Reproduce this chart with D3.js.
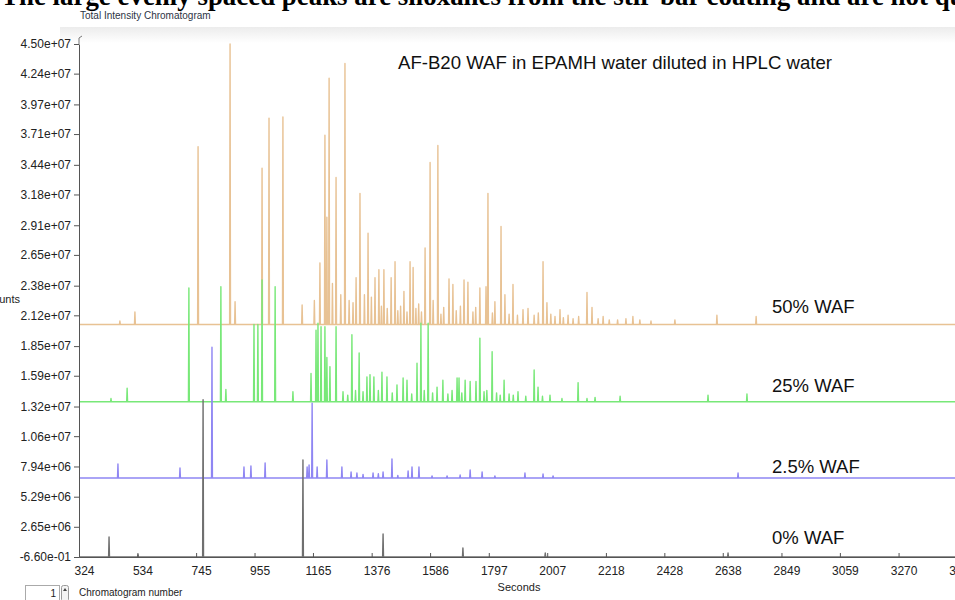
<!DOCTYPE html>
<html>
<head>
<meta charset="utf-8">
<script src="https://cdn.jsdelivr.net/npm/d3@7"></script>
<style>
  html, body { margin: 0; padding: 0; background: #fff; overflow: hidden; }
  svg { display: block; }
</style>
</head>
<body>
<svg id="chart" width="955" height="600"></svg>
<script>
// ---------------- DATA ----------------
// retention time (seconds), intensity (millions of counts)
const seriesNames = ["50% WAF", "25% WAF", "2.5% WAF", "0% WAF"];
const baselines = [20.4, 13.62, 6.93, 0.0];

const peaks50 = [
  [471, 20.7], [525, 21.5], [752, 36.0], [867, 45.0], [885, 22.4], [982, 34.1],
  [1007, 38.5], [1057, 38.6], [1126, 22.1], [1170, 22.5], [1190, 25.8], [1208, 37.0],
  [1215, 29.8], [1223, 42.0], [1235, 24.0], [1248, 33.3], [1265, 23.0], [1280, 43.3],
  [1295, 22.5], [1309, 22.3], [1320, 24.5], [1334, 31.9], [1350, 23.0], [1363, 28.4],
  [1375, 22.8], [1388, 24.5], [1402, 25.2], [1411, 22.0], [1420, 25.2], [1432, 21.8],
  [1446, 24.5], [1460, 25.9], [1470, 21.6], [1480, 22.0], [1492, 23.3], [1503, 21.5],
  [1514, 25.9], [1525, 25.4], [1535, 21.8], [1545, 22.2], [1555, 21.5], [1568, 27.1],
  [1586, 34.6], [1597, 22.5], [1614, 36.1], [1625, 21.3], [1635, 21.9], [1654, 24.4],
  [1668, 23.9], [1680, 21.6], [1695, 22.0], [1708, 24.3], [1722, 24.1], [1740, 21.5],
  [1750, 21.9], [1765, 23.6], [1787, 23.7], [1794, 31.9], [1810, 21.4], [1819, 22.4],
  [1841, 29.0], [1855, 23.0], [1870, 21.3], [1884, 23.9], [1900, 21.2], [1920, 21.7],
  [1938, 21.8], [1960, 21.2], [1975, 21.4], [1992, 25.9], [2006, 22.3], [2020, 21.3],
  [2035, 21.1], [2053, 21.7], [2065, 21.0], [2082, 21.2], [2100, 20.9], [2120, 21.1],
  [2150, 23.2], [2168, 21.9], [2190, 20.9], [2208, 21.1], [2230, 20.8], [2260, 20.8],
  [2290, 20.9], [2315, 21.1], [2340, 20.8], [2380, 20.7], [2466, 20.8], [2617, 21.2],
  [2758, 21.1]
];

const peaks25 = [
  [439, 13.9], [497, 14.8], [719, 23.6], [834, 23.7], [852, 14.7], [953, 20.4],
  [967, 20.4], [982, 24.3], [1029, 23.7], [1093, 14.5], [1158, 16.1], [1176, 19.9],
  [1183, 20.5], [1194, 20.2], [1208, 20.2], [1215, 17.5], [1226, 16.7], [1248, 20.2],
  [1273, 14.5], [1290, 14.2], [1305, 19.5], [1318, 14.6], [1331, 17.9], [1345, 14.5],
  [1359, 15.8], [1370, 16.0], [1384, 15.8], [1400, 14.6], [1413, 16.2], [1431, 15.8],
  [1450, 14.4], [1467, 15.1], [1489, 15.7], [1503, 15.5], [1520, 14.3], [1539, 17.0],
  [1553, 20.5], [1565, 14.6], [1579, 20.5], [1595, 14.4], [1611, 14.9], [1632, 15.5],
  [1650, 14.3], [1665, 14.6], [1683, 15.7], [1690, 15.7], [1700, 14.4], [1712, 15.5],
  [1730, 15.4], [1751, 15.4], [1765, 19.2], [1780, 14.5], [1790, 14.6], [1809, 18.0],
  [1825, 14.4], [1838, 14.2], [1852, 15.5], [1870, 14.3], [1885, 14.2], [1902, 14.5],
  [1930, 14.1], [1960, 16.4], [1974, 14.9], [1990, 14.1], [2017, 14.2], [2060, 13.9],
  [2118, 15.3], [2150, 13.9], [2179, 14.0], [2269, 14.1], [2585, 14.2], [2725, 14.3]
];

const peaks2_5 = [
  [464, 8.16], [687, 7.81], [802, 18.4], [917, 7.89], [942, 7.98], [993, 8.25],
  [1144, 7.89], [1151, 8.07], [1162, 13.5], [1180, 7.89], [1215, 8.51], [1269, 7.89],
  [1302, 7.46], [1323, 7.37], [1345, 7.25], [1381, 7.37], [1400, 7.3], [1417, 7.46],
  [1449, 8.6], [1470, 7.15], [1507, 7.54], [1521, 7.89], [1546, 7.89], [1593, 7.11],
  [1647, 7.11], [1694, 7.19], [1730, 7.63], [1773, 7.46], [1819, 7.11], [1927, 7.37],
  [1992, 7.28], [2028, 7.11], [2693, 7.37]
];

const peaks0 = [
  [432, 1.75], [536, 0.2], [770, 13.8], [1129, 8.51], [1417, 2.02], [1704, 0.79],
  [2000, 0.35], [2657, 0.35]
];

const allPeaks = [peaks50, peaks25, peaks2_5, peaks0];
const seriesColors = ["#e8c294", "#78e878", "#8f86f3", "#6f6f6f"];

const xTickLabels = ["324", "534", "745", "955", "1165", "1376", "1586", "1797",
                     "2007", "2218", "2428", "2638", "2849", "3059", "3270", "3480"];
const yTickLabels = ["-6.60e-01", "2.65e+06", "5.29e+06", "7.94e+06", "1.06e+07",
                     "1.32e+07", "1.59e+07", "1.85e+07", "2.12e+07", "2.38e+07",
                     "2.65e+07", "2.91e+07", "3.18e+07", "3.44e+07", "3.71e+07",
                     "3.97e+07", "4.24e+07", "4.50e+07"];

// ---------------- CHART ----------------
const svg = d3.select("#chart");
const font = "'Liberation Sans', Arial, Helvetica, sans-serif";

const x = d3.scaleLinear().domain([324, 3480]).range([79, 957]);
const y = d3.scaleLinear().domain([-6.6e-7, 45.0]).range([557, 44]);

// top title (cut off at top edge, as in the original screenshot)
svg.append("text")
  .attr("x", 1).attr("y", 5)
  .attr("font-family", "'Liberation Serif', 'Times New Roman', serif")
  .attr("font-weight", "bold").attr("font-size", 26.9)
  .attr("fill", "#000")
  .text("The large evenly spaced peaks are siloxanes from the stir-bar coating and are not quantified");

// faint header band of the plot panel
const grad = svg.append("defs").append("linearGradient")
  .attr("id", "band").attr("x1", 0).attr("y1", 0).attr("x2", 0).attr("y2", 1);
grad.append("stop").attr("offset", "0%").attr("stop-color", "#ececec");
grad.append("stop").attr("offset", "100%").attr("stop-color", "#ffffff");
svg.append("rect").attr("x", 60).attr("y", 27).attr("width", 895).attr("height", 16)
  .attr("fill", "url(#band)");

svg.append("text")
  .attr("x", 80).attr("y", 19)
  .attr("font-family", font).attr("font-size", 10)
  .attr("fill", "#2c3445")
  .text("Total Intensity Chromatogram");

// chromatogram lines
allPeaks.forEach((pk, i) => {
  const base = baselines[i];
  const pts = [[324, base]];
  pk.forEach(([t, v]) => {
    pts.push([t - 1.6, base], [t, v], [t + 1.6, base]);
  });
  pts.push([3480, base]);
  const line = d3.line().x(d => x(d[0])).y(d => y(d[1]));
  svg.append("path")
    .attr("d", line(pts))
    .attr("fill", "none")
    .attr("stroke", seriesColors[i])
    .attr("stroke-width", 1.4)
    .attr("stroke-linejoin", "round");
});

// axes
const yTickVals = yTickLabels.map(s => parseFloat(s) / 1e6);
const yAxis = d3.axisLeft(y)
  .tickValues(yTickVals)
  .tickFormat((d, i) => yTickLabels[i])
  .tickSizeInner(5).tickSizeOuter(0).tickPadding(3);
const gy = svg.append("g").attr("transform", "translate(79,0)").call(yAxis);
gy.select(".domain").attr("stroke", "#555");
gy.selectAll(".tick line").attr("stroke", "#555");
gy.selectAll("text").attr("font-family", font).attr("font-size", 12).attr("fill", "#222");

const xTickVals = xTickLabels.map(Number);
const xAxis = d3.axisBottom(x)
  .tickValues(xTickVals)
  .tickFormat((d, i) => xTickLabels[i])
  .tickSizeInner(-4).tickSizeOuter(0).tickPadding(9);
const gx = svg.append("g").attr("transform", "translate(0,557)").call(xAxis);
gx.select(".domain").attr("stroke", "#555");
gx.selectAll(".tick line").attr("stroke", "#555");
gx.selectAll("text").attr("font-family", font).attr("font-size", 12)
  .attr("fill", "#222").attr("dx", 5);

// small notch at the top of the y axis
svg.append("path").attr("d", "M79,44 L79,38 L82,36").attr("fill", "none").attr("stroke", "#777");

// axis titles
svg.append("text").attr("x", 519).attr("y", 591).attr("text-anchor", "middle")
  .attr("font-family", font).attr("font-size", 11).attr("fill", "#222").text("Seconds");
svg.append("text").attr("x", 20).attr("y", 303).attr("text-anchor", "end")
  .attr("font-family", font).attr("font-size", 11).attr("fill", "#222").text("Counts");

// annotation + series labels
svg.append("text").attr("x", 398).attr("y", 69)
  .attr("font-family", font).attr("font-size", 18.6).attr("fill", "#111")
  .text("AF-B20 WAF in EPAMH water diluted in HPLC water");

const labelY = [313, 392, 473, 544];
seriesNames.forEach((n, i) => {
  svg.append("text").attr("x", 772).attr("y", labelY[i])
    .attr("font-family", font).attr("font-size", 18.5).attr("fill", "#111")
    .text(n);
});

// chromatogram number control
svg.append("rect").attr("x", 25.5).attr("y", 585.5).attr("width", 34).attr("height", 16)
  .attr("fill", "#fff").attr("stroke", "#aaa");
svg.append("text").attr("x", 56).attr("y", 597).attr("text-anchor", "end")
  .attr("font-family", font).attr("font-size", 10).attr("fill", "#222").text("1");
svg.append("rect").attr("x", 61.5).attr("y", 585.5).attr("width", 7).attr("height", 16)
  .attr("rx", 2).attr("fill", "#f4f4f4").attr("stroke", "#999");
svg.append("path").attr("d", "M63,591 L65,588 L67,591 Z").attr("fill", "#444");
svg.append("text").attr("x", 79).attr("y", 596)
  .attr("font-family", font).attr("font-size", 10).attr("fill", "#222").text("Chromatogram number");
</script>
</body>
</html>
